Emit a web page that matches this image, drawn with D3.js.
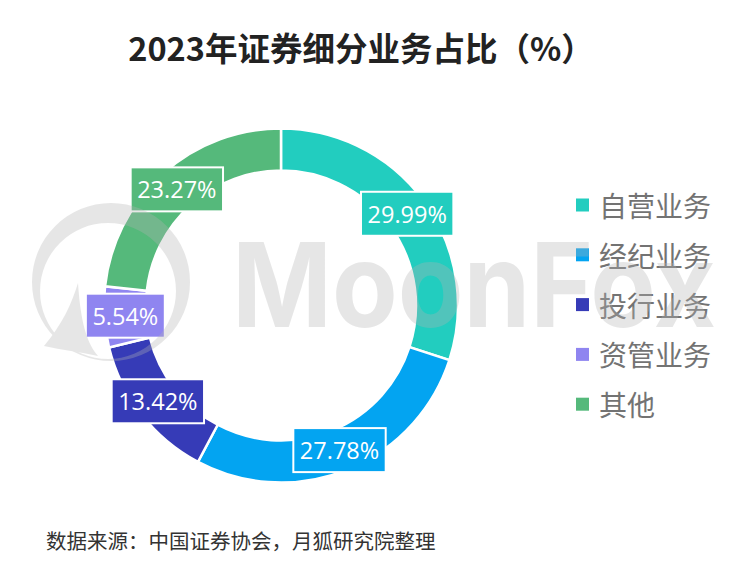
<!DOCTYPE html>
<html>
<head>
<meta charset="utf-8">
<script src="https://cdn.jsdelivr.net/npm/d3@7"></script>
<style>
  html, body { margin: 0; padding: 0; background: #fff; }
  svg { display: block; }
</style>
</head>
<body>
<svg id="chart" width="737" height="565"></svg>
<script>
// ---- data ----
const categories = ['自营业务', '经纪业务', '投行业务', '资管业务', '其他'];
const values = [29.99, 27.78, 13.42, 5.54, 23.27];
const valueLabels = ['29.99%', '27.78%', '13.42%', '5.54%', '23.27%'];
const titleText = '2023年证券细分业务占比（%）';
const sourceText = '数据来源：中国证券协会，月狐研究院整理';

// ---- style ----
const palette = ['#22CDBF', '#03A4F1', '#363BB7', '#8F85F0', '#55B97B'];
const W = 737, H = 565;
const cx = 281, cy = 305.5, rOuter = 177, rInner = 135;
const cjk = '"Noto Sans CJK SC", "Noto Sans", sans-serif';

const svg = d3.select('#chart');
svg.append('rect').attr('width', W).attr('height', H).attr('fill', '#fff');

const color = d3.scaleOrdinal().domain(categories).range(palette);

// title
svg.append('text')
  .attr('x', 361).attr('y', 46)
  .attr('text-anchor', 'middle').attr('dominant-baseline', 'central')
  .attr('font-family', cjk).attr('font-weight', 700).attr('font-size', 32.5)
  .attr('fill', '#222')
  .text(titleText);

// donut
const pie = d3.pie().sort(null).value(d => d.v);
const arcs = pie(categories.map((c, i) => ({ c, v: values[i], l: valueLabels[i] })));
const arc = d3.arc().innerRadius(rInner).outerRadius(rOuter);
const labelArc = d3.arc().innerRadius((rInner + rOuter) / 2).outerRadius((rInner + rOuter) / 2);

const g = svg.append('g').attr('transform', `translate(${cx},${cy})`);
g.selectAll('path.slice').data(arcs).enter().append('path')
  .attr('class', 'slice')
  .attr('d', arc)
  .attr('fill', d => color(d.data.c))
  .attr('stroke', '#fff').attr('stroke-width', 2.5).attr('stroke-linejoin', 'miter');

// labels
const lg = g.selectAll('g.lbl').data(arcs).enter().append('g')
  .attr('class', 'lbl')
  .attr('transform', d => `translate(${labelArc.centroid(d)})`);
lg.each(function (d) {
  const sel = d3.select(this);
  const t = sel.append('text')
    .attr('text-anchor', 'middle').attr('dominant-baseline', 'central')
    .attr('font-family', '"Open Sans", "Noto Sans", sans-serif').attr('font-size', 23.5)
    .attr('fill', '#fff')
    .text(d.data.l);
  const bb = t.node().getBBox();
  const pw = 6.5, ph = 44;
  sel.insert('rect', 'text')
    .attr('x', bb.x - pw).attr('y', -ph / 2)
    .attr('width', bb.width + 2 * pw).attr('height', ph)
    .attr('fill', color(d.data.c))
    .attr('stroke', '#fff').attr('stroke-width', 2);
});

// legend
const legend = svg.append('g').attr('transform', 'translate(576,205)');
const li = legend.selectAll('g').data(categories).enter().append('g')
  .attr('transform', (d, i) => `translate(0,${i * 49.8})`);
li.append('rect').attr('x', 0).attr('y', -6.5).attr('width', 13).attr('height', 13)
  .attr('fill', d => color(d));
li.append('text').attr('x', 23).attr('y', 0)
  .attr('dominant-baseline', 'central')
  .attr('font-family', cjk).attr('font-size', 28).attr('fill', '#737373')
  .text(d => d);

// source
svg.append('text')
  .attr('x', 46).attr('y', 540)
  .attr('dominant-baseline', 'central')
  .attr('font-family', cjk).attr('font-size', 20.5).attr('fill', '#333')
  .text(sourceText);

// watermark (MoonFox logo), semi-transparent on top
const wm = svg.append('g').attr('fill', '#b4b4b4').attr('opacity', 0.32).attr('pointer-events', 'none');
const ring = d3.path();
ring.arc(111, 282, 79, 0, 2 * Math.PI);
ring.moveTo(108 + 68, 291);
ring.arc(108, 291, 68, 0, 2 * Math.PI);
wm.append('path').attr('d', ring.toString()).attr('fill-rule', 'evenodd');
wm.append('path').attr('d', 'M78,283 C72,303 62,325 44,346 C62,350 80,352 98,356 C84,340 80,312 78,283 Z');
wm.append('text')
  .attr('transform', 'translate(232,327) scale(1,1.13)')
  .attr('font-family', 'Inter, "DejaVu Sans", sans-serif').attr('font-weight', 700)
  .attr('font-size', 104)
  .attr('textLength', 484).attr('lengthAdjust', 'spacingAndGlyphs')
  .text('MoonFox');
</script>
</body>
</html>
